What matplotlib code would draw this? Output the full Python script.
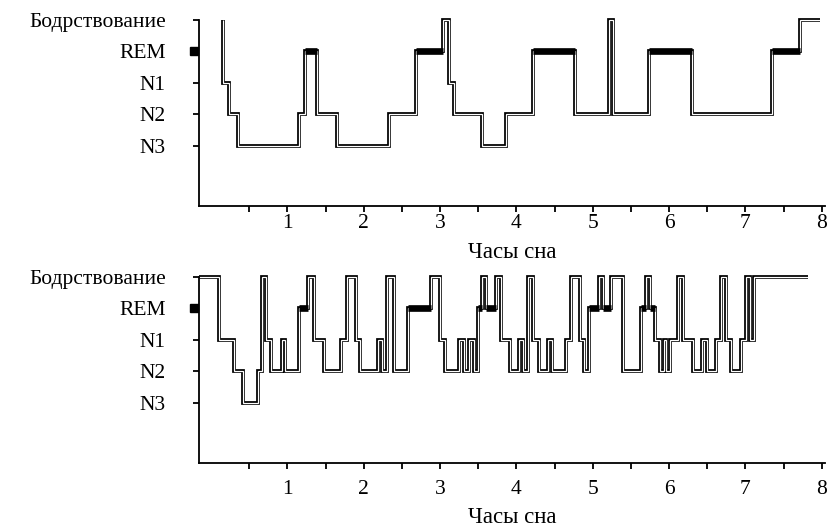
import matplotlib
matplotlib.use("Agg")
import matplotlib.pyplot as plt
import matplotlib.transforms as mtransforms

plt.rcParams["font.family"] = ["Liberation Serif", "DejaVu Serif"]

stage_names = ["Бодрствование", "REM", "N1", "N2", "N3"]
stage_levels = {"W": 5, "REM": 4, "N1": 3, "N2": 2, "N3": 1}

# top hypnogram: stage start times (hours) and stages
top_starts = [0.155, 0.16, 0.235, 0.357, 1.154, 1.229, 1.382, 1.656, 2.327, 2.689,
              3.037, 3.115, 3.176, 3.552, 3.863, 4.213, 4.771, 5.207, 5.259, 5.739,
              6.305, 7.35, 7.72]
top_stages = ["W", "N1", "N2", "N3", "N2", "REM", "N2", "N3", "N2", "REM",
              "W", "N1", "N2", "N3", "N2", "REM", "N2", "W", "N2", "REM",
              "N2", "REM", "W"]
top_end = 7.97

# bottom hypnogram
bottom_starts = [-0.157, 0.105, 0.305, 0.422, 0.610, 0.671, 0.715, 0.784, 0.924, 0.967,
                 1.150, 1.272, 1.346, 1.477, 1.708, 1.774, 1.895, 1.957, 2.192, 2.244,
                 2.305, 2.392, 2.575, 2.885, 2.993, 3.068, 3.242, 3.311, 3.373, 3.438,
                 3.494, 3.546, 3.604, 3.735, 3.800, 3.922, 4.039, 4.092, 4.148, 4.222,
                 4.292, 4.409, 4.467, 4.650, 4.715, 4.837, 4.889, 4.954, 5.076, 5.137,
                 5.238, 5.390, 5.630, 5.695, 5.748, 5.813, 5.882, 5.935, 5.965, 6.009,
                 6.118, 6.187, 6.318, 6.435, 6.501, 6.610, 6.676, 6.741, 6.807, 6.937,
                 7.003, 7.055, 7.111]
bottom_stages = ["W", "N1", "N2", "N3", "N2", "W", "N1", "N2", "N1", "N2",
                 "REM", "W", "N1", "N2", "N1", "W", "N1", "N2", "N1", "N2",
                 "W", "N2", "REM", "W", "N1", "N2", "N1", "N2", "N1", "N2",
                 "REM", "W", "REM", "W", "N1", "N2", "N1", "N2", "W", "N1",
                 "N2", "N1", "N2", "N1", "W", "N1", "N2", "REM", "W", "REM",
                 "W", "N2", "REM", "W", "REM", "N1", "N2", "N1", "N2", "N1",
                 "W", "N1", "N2", "N1", "N2", "N1", "W", "N1", "N2", "N1",
                 "W", "N1", "W"]
bottom_end = 7.821

x_major = [1, 2, 3, 4, 5, 6, 7, 8]
x_minor = [0.5, 1.5, 2.5, 3.5, 4.5, 5.5, 6.5, 7.5]

fig = plt.figure(figsize=(8.4, 5.27), dpi=100)
ax_top = fig.add_axes([0.237, 0.609, 0.745, 0.357])
ax_bot = fig.add_axes([0.237, 0.1214, 0.745, 0.357])


def draw(ax, starts, stages, end, xpad):
    levels = [stage_levels[s] for s in stages]
    xs = starts + [end]
    ys = levels + [levels[-1]]
    ax.plot(xs, ys, drawstyle="steps-post", color="black", lw=2.7,
            solid_joinstyle="miter", solid_capstyle="butt")
    ax.plot(xs, ys, drawstyle="steps-post", color="white", lw=0.9,
            solid_joinstyle="miter", solid_capstyle="butt")
    for i, s in enumerate(stages):
        if s == "REM":
            e = xs[i + 1]
            ax.hlines(stage_levels["REM"], starts[i], e, color="black", lw=4.8)

    ax.set_xlim(-0.157, 8.04)
    ax.set_ylim(-0.92, 5.06)
    ax.set_yticks([5, 4, 3, 2, 1])
    ax.set_yticklabels(stage_names)
    ax.set_xticks(x_major)
    ax.set_xticks(x_minor, minor=True)
    ax.tick_params(axis="x", which="both", direction="out", length=4.5, width=1.3,
                   labelsize=15.5, pad=xpad)
    ax.tick_params(axis="y", direction="out", length=4, width=1.3, labelsize=15.5, pad=20)
    for side in ["top", "right"]:
        ax.spines[side].set_visible(False)
    ax.spines["left"].set_linewidth(1.3)
    ax.spines["bottom"].set_linewidth(1.3)
    ax.spines["left"].set_bounds(-0.92, 5.0)
    ax.set_xlabel("Часы сна", fontsize=16.5, labelpad=6)
    # REM marker on the y axis
    trans = mtransforms.blended_transform_factory(ax.transAxes, ax.transData)
    ax.plot([-0.008], [stage_levels["REM"]], marker="s", ms=6, color="black",
            transform=trans, clip_on=False)


draw(ax_top, top_starts, top_stages, top_end, 1.5)
draw(ax_bot, bottom_starts, bottom_stages, bottom_end, 7.5)

fig.savefig("out.png", dpi=100)
plt.close(fig)
